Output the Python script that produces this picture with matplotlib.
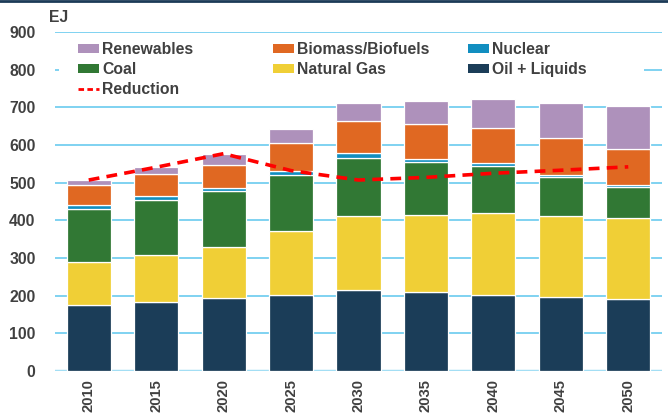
import numpy as np
import matplotlib.pyplot as plt
from matplotlib.patches import Patch, Rectangle
from matplotlib.lines import Line2D

plt.rcParams['font.family'] = ['Liberation Sans', 'DejaVu Sans']

# data (EJ)
years = ['2010', '2015', '2020', '2025', '2030', '2035', '2040', '2045', '2050']
oil = [175, 184, 193, 203, 214, 209, 203, 197, 192]
natural_gas = [114, 125, 137, 168, 197, 205, 216, 214, 215]
coal = [142, 145, 147, 149, 154, 140, 125, 105, 82]
nuclear = [10, 10, 10, 11, 13, 10, 9, 5, 5]
biomass = [52, 58, 61, 75, 86, 91, 91, 97, 96]
renewables = [14, 19, 27, 36, 47, 62, 77, 94, 114]
reduction = [507, 541, 577, 532, 507, 514, 525, 533, 542]

W, H = 668, 417
fig = plt.figure(figsize=(W / 100, H / 100), dpi=100)
ax = fig.add_axes([55 / W, 1 - 371 / H, 607 / W, 339 / H])

txt = '#404040'
fs = 11.3
series = [
    ('Oil + Liquids', oil, '#1B3D58'),
    ('Natural Gas', natural_gas, '#F0CF36'),
    ('Coal', coal, '#317834'),
    ('Nuclear', nuclear, '#118EC0'),
    ('Biomass/Biofuels', biomass, '#E06822'),
    ('Renewables', renewables, '#AE91BB'),
]

x = np.arange(len(years))
bottom = np.zeros(len(years))
handles = {}
for name, vals, col in series:
    ax.bar(x, vals, 0.655, bottom=bottom, color=col, edgecolor='white',
           linewidth=0.9, zorder=3)
    bottom += np.array(vals)
    handles[name] = Patch(facecolor=col, edgecolor='none')

ax.plot(x, reduction, color='#FF0000', linestyle=(0, (3, 2)), linewidth=2.6, zorder=4)
handles['Reduction'] = Line2D([], [], color='#FF0000', linestyle=(0, (2, 1.2)), linewidth=2)

ax.set_xlim(-0.5, len(years) - 0.5)
ax.set_ylim(0, 900)
ax.set_yticks(range(0, 901, 100))
ax.yaxis.grid(True, color='#5CC6EE', linewidth=1.1, zorder=0)
ax.set_axisbelow(True)
ax.axhline(0, color='#A3DEF4', linewidth=2.5, zorder=2)
for s in ax.spines.values():
    s.set_visible(False)
ax.tick_params(length=0, labelsize=fs, labelcolor=txt)
ax.tick_params(axis='y', pad=14)
ax.tick_params(axis='x', pad=6, labelsize=10.6)
ax.set_xticks(x)
ax.set_xticklabels(years, rotation=90, fontweight='bold')
for lab in ax.get_yticklabels():
    lab.set_fontweight('bold')

# white block behind the legend
fig.patches.append(Rectangle((59 / W, 1 - 98 / H), 585 / W, 60 / H,
                             transform=fig.transFigure, facecolor='white',
                             edgecolor='none', zorder=5))

cols = [(['Renewables', 'Coal', 'Reduction'], 78),
        (['Biomass/Biofuels', 'Natural Gas'], 273),
        (['Nuclear', 'Oil + Liquids'], 468)]
for names, px in cols:
    leg = fig.legend([handles[n] for n in names], names, loc='upper left',
                     bbox_to_anchor=(px / W, 1 - 42 / H), frameon=False,
                     borderpad=0, borderaxespad=0, handlelength=1.35,
                     handleheight=0.5, handletextpad=0.2, labelspacing=0.33,
                     prop={'size': fs, 'weight': 'bold'}, labelcolor=txt)
    leg.set_zorder(6)

fig.text(49 / W, 1 - 18 / H, 'EJ', fontsize=fs, fontweight='bold',
         color=txt, va='center', ha='left')
fig.add_artist(Line2D([0, 1], [1 - 1 / H, 1 - 1 / H], transform=fig.transFigure,
                      color='#1B3A57', linewidth=2))

fig.savefig('out.png', dpi=100)
